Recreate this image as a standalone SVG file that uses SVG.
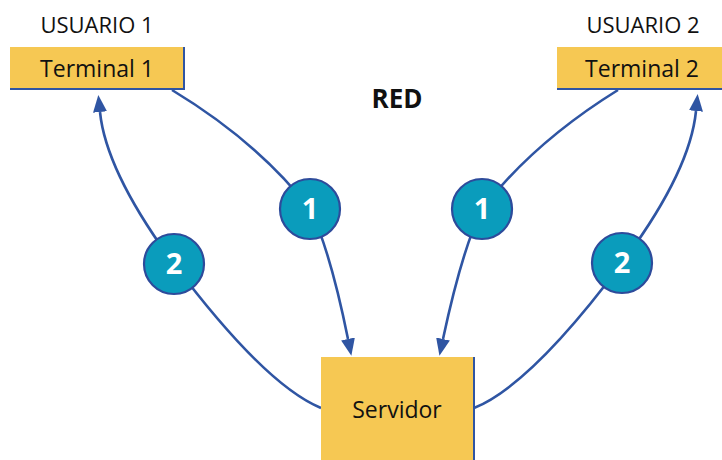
<svg xmlns="http://www.w3.org/2000/svg" width="722" height="460" viewBox="0 0 722 460">
  <style>
    .label { font-family: "Open Sans", "Noto Sans", "Liberation Sans", sans-serif; fill: #111111; }
    .box { fill: #f6c853; }
    .edge { fill: none; stroke: #2f55a3; stroke-width: 2; }
    .link { fill: none; stroke: #2f55a3; stroke-width: 2.6; }
    .badge { fill: #0a9cbc; stroke: #2d4b9b; stroke-width: 2.2; }
    .num { font-family: "Open Sans", "Noto Sans", "Liberation Sans", sans-serif; font-weight: bold; font-size: 29px; fill: #ffffff; text-anchor: middle; }
  </style>
  <defs>
    <marker id="arrow" markerUnits="userSpaceOnUse" markerWidth="18" markerHeight="20" refX="0" refY="8" orient="auto">
      <path d="M0,1 L17,8 L0,15 Z" fill="#2f55a3"/>
    </marker>
  </defs>

  <rect width="722" height="460" fill="#ffffff"/>

  <!-- connectors -->
  <g id="connectors">
    <!-- Terminal 1 to Servidor (step 1) -->
    <path class="link" d="M172,90 Q258,142 310,209"/>
    <path class="link" d="M310,209 Q330,250 348,339" marker-end="url(#arrow)"/>
    <!-- Terminal 2 to Servidor (step 1) -->
    <path class="link" d="M618,90 Q534,142 482,209"/>
    <path class="link" d="M482,209 Q462,250 443,339" marker-end="url(#arrow)"/>
    <!-- Servidor to Terminal 1 (step 2) -->
    <path class="link" d="M321,408 Q265,385 174,264"/>
    <path class="link" d="M174,264 Q106,172 100,112" marker-end="url(#arrow)"/>
    <!-- Servidor to Terminal 2 (step 2) -->
    <path class="link" d="M474,408 Q531,385 622,263"/>
    <path class="link" d="M622,263 Q690,172 696,111" marker-end="url(#arrow)"/>
  </g>

  <!-- user 1 -->
  <g id="terminal1">
    <text class="label" x="97" y="33" font-size="22" text-anchor="middle">USUARIO 1</text>
    <rect class="box" x="10" y="47" width="174" height="42"/>
    <polyline class="edge" points="184,47 184,89 10,89"/>
    <text class="label" x="97" y="77" font-size="23" text-anchor="middle">Terminal 1</text>
  </g>

  <!-- user 2 -->
  <g id="terminal2">
    <text class="label" x="643" y="33" font-size="22" text-anchor="middle">USUARIO 2</text>
    <rect class="box" x="557" y="47" width="165" height="42"/>
    <line class="edge" x1="557" y1="89" x2="722" y2="89"/>
    <text class="label" x="642" y="77" font-size="23" text-anchor="middle">Terminal 2</text>
  </g>

  <!-- network title -->
  <g id="red">
    <text class="label" x="397" y="108" font-size="26" font-weight="bold" text-anchor="middle">RED</text>
  </g>

  <!-- server -->
  <g id="servidor">
    <rect class="box" x="321" y="357" width="153" height="110"/>
    <line class="edge" x1="474" y1="357" x2="474" y2="460"/>
    <text class="label" x="397" y="418" font-size="23" text-anchor="middle">Servidor</text>
  </g>

  <!-- step badges -->
  <g id="step1-left">
    <circle class="badge" cx="310" cy="209" r="30"/>
    <text class="num" x="310" y="219">1</text>
  </g>
  <g id="step1-right">
    <circle class="badge" cx="482" cy="209" r="30"/>
    <text class="num" x="482" y="219">1</text>
  </g>
  <g id="step2-left">
    <circle class="badge" cx="174" cy="264" r="30"/>
    <text class="num" x="174" y="274">2</text>
  </g>
  <g id="step2-right">
    <circle class="badge" cx="622" cy="263" r="30"/>
    <text class="num" x="622" y="273">2</text>
  </g>
</svg>
